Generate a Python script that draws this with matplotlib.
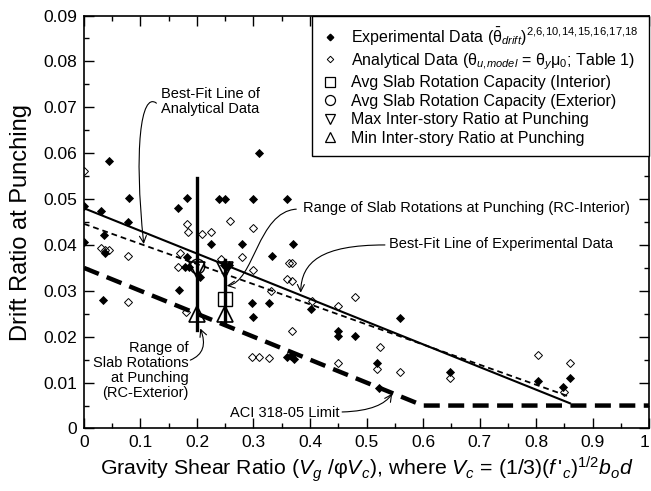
import matplotlib
matplotlib.use('Agg')
import matplotlib.pyplot as plt
from matplotlib.lines import Line2D
from matplotlib.patches import FancyArrowPatch
from matplotlib.path import Path
from matplotlib.ticker import MultipleLocator, FuncFormatter

plt.rcParams['font.family'] = ['Liberation Sans', 'DejaVu Sans']
plt.rcParams['mathtext.fontset'] = 'custom'
plt.rcParams['mathtext.rm'] = 'Liberation Sans'
plt.rcParams['mathtext.it'] = 'Liberation Sans:italic'
plt.rcParams['mathtext.bf'] = 'Liberation Sans:bold'
plt.rcParams['mathtext.sf'] = 'Liberation Sans'

# ---------------- data ----------------
exp_x = [0.000, 0.000, 0.031, 0.035, 0.038, 0.034, 0.045, 0.078, 0.080, 0.166,
         0.169, 0.182, 0.183, 0.178, 0.186, 0.206, 0.225, 0.239, 0.250, 0.248,
         0.256, 0.252, 0.280, 0.297, 0.300, 0.300, 0.310, 0.327, 0.332, 0.360,
         0.370, 0.360, 0.366, 0.372, 0.402, 0.449, 0.449, 0.480, 0.519, 0.522,
         0.559, 0.648, 0.804, 0.848, 0.860]
exp_y = [0.0484, 0.0407, 0.0473, 0.0422, 0.0382, 0.0281, 0.0582, 0.0451, 0.0502, 0.0481,
         0.0302, 0.0502, 0.0373, 0.0353, 0.0351, 0.0331, 0.0402, 0.0500, 0.0500, 0.0357,
         0.0357, 0.0352, 0.0402, 0.0273, 0.0244, 0.0500, 0.0601, 0.0273, 0.0377, 0.0500,
         0.0402, 0.0155, 0.0158, 0.0152, 0.0261, 0.0212, 0.0201, 0.0201, 0.0143, 0.0088,
         0.0241, 0.0123, 0.0103, 0.0091, 0.0111]

ana_x = [0.000, 0.031, 0.037, 0.045, 0.078, 0.078, 0.166, 0.170, 0.180, 0.182,
         0.184, 0.208, 0.225, 0.242, 0.259, 0.280, 0.300, 0.300, 0.297, 0.310,
         0.327, 0.331, 0.362, 0.369, 0.359, 0.369, 0.369, 0.403, 0.449, 0.480,
         0.449, 0.519, 0.524, 0.559, 0.648, 0.804, 0.850, 0.860]
ana_y = [0.0562, 0.0393, 0.0390, 0.0388, 0.0377, 0.0276, 0.0351, 0.0383, 0.0254, 0.0446,
         0.0429, 0.0424, 0.0429, 0.0370, 0.0452, 0.0373, 0.0436, 0.0345, 0.0156, 0.0155,
         0.0153, 0.0300, 0.0361, 0.0360, 0.0325, 0.0322, 0.0212, 0.0278, 0.0267, 0.0286,
         0.0142, 0.0129, 0.0178, 0.0124, 0.0110, 0.0160, 0.0080, 0.0142]

fit_exp_x = [0.0, 0.86]
fit_exp_y = [0.048, 0.0055]
fit_ana_x = [0.0, 0.86]
fit_ana_y = [0.0446, 0.0069]
aci_x = [0.0, 0.6, 1.0]
aci_y = [0.035, 0.005, 0.005]

ext_x = 0.20
ext_range = [0.0215, 0.0545]
ext_avg = 0.0355
ext_max = 0.0345
ext_min = 0.0249

int_x = 0.25
int_range = [0.0233, 0.0368]
int_avg = 0.0283
int_max = 0.0345
int_min = 0.0249

x_ticks = [0, 0.1, 0.2, 0.3, 0.4, 0.5, 0.6, 0.7, 0.8, 0.9, 1.0]
y_ticks = [0, 0.01, 0.02, 0.03, 0.04, 0.05, 0.06, 0.07, 0.08, 0.09]

legend_labels = [
    r"Experimental Data ($\bar{\mathrm{\theta}}_{drift})^{2,\!6,\!10,\!14,\!15,\!16,\!17,\!18}$",
    r"Analytical Data ($\mathrm{\theta}_{u,\!model}$ = $\mathrm{\theta}_y\mathrm{\mu}_0$; Table 1)",
    "Avg Slab Rotation Capacity (Interior)",
    "Avg Slab Rotation Capacity (Exterior)",
    "Max Inter-story Ratio at Punching",
    "Min Inter-story Ratio at Punching",
]

# ---------------- figure ----------------
fig = plt.figure(figsize=(6.51, 4.91), dpi=100)
ax = fig.add_axes([0.129, 0.1273, 0.8680, 0.8411])

ax.plot(fit_exp_x, fit_exp_y, color='k', lw=1.5, zorder=2)
ax.plot(fit_ana_x, fit_ana_y, color='k', lw=1.3, dashes=(3.2, 2.2), zorder=2)
ax.plot(aci_x, aci_y, color='k', lw=3.2, dashes=(3.6, 1.9), zorder=2)

ax.plot(exp_x, exp_y, linestyle='none', marker='D', ms=3.8, mfc='k', mec='k',
        mew=0.6, zorder=3)
ax.plot(ana_x, ana_y, linestyle='none', marker='D', ms=3.8, mfc='none', mec='k',
        mew=0.7, zorder=3)

# range bars
ax.plot([ext_x, ext_x], ext_range, color='k', lw=2.4, zorder=4)
ax.plot([int_x, int_x], int_range, color='k', lw=2.4, zorder=4)
ax.plot([ext_x], [ext_avg], marker='o', ms=10.5, mfc='none', mec='k', mew=1.0, zorder=5)
ax.plot([int_x], [int_avg], marker='s', ms=10.5, mfc='none', mec='k', mew=1.0, zorder=5)
ax.plot([ext_x, int_x], [ext_max, int_max], linestyle='none', marker='v', ms=12,
        mfc='none', mec='k', mew=1.2, zorder=5)
ax.plot([ext_x, int_x], [ext_min, int_min], linestyle='none', marker='^', ms=12,
        mfc='none', mec='k', mew=1.2, zorder=5)

ax.set_xlim(0, 1)
ax.set_ylim(0, 0.09)
ax.set_xticks(x_ticks)
ax.set_yticks(y_ticks)
ax.xaxis.set_minor_locator(MultipleLocator(0.05))
ax.yaxis.set_minor_locator(MultipleLocator(0.005))
fmt = FuncFormatter(lambda v, p: '0' if abs(v) < 1e-12 else ('%g' % round(v, 3)))
ax.xaxis.set_major_formatter(fmt)
ax.yaxis.set_major_formatter(fmt)
ax.tick_params(which='both', direction='in', top=True, right=True, width=1.0)
ax.tick_params(which='major', length=7, labelsize=12.5, pad=5)
ax.tick_params(which='minor', length=3.5)
for s in ax.spines.values():
    s.set_linewidth(1.2)
xlabels = ax.get_xticklabels()
xlabels[-1].set_horizontalalignment('right')

ax.set_xlabel(r"Gravity Shear Ratio ($V_g$ /φ$V_c$), where $V_c$ = (1/3)($f\,'_c)^{1/2}$$b_o d$",
              fontsize=15.3, labelpad=3)
ax.set_ylabel("Drift Ratio at Punching", fontsize=17, labelpad=8)

# legend
handles = [
    Line2D([], [], linestyle='none', marker='D', ms=3.3, mfc='k', mec='k'),
    Line2D([], [], linestyle='none', marker='D', ms=3.3, mfc='none', mec='k', mew=0.7),
    Line2D([], [], linestyle='none', marker='s', ms=7.5, mfc='none', mec='k', mew=0.9),
    Line2D([], [], linestyle='none', marker='o', ms=7.2, mfc='none', mec='k', mew=0.9),
    Line2D([], [], linestyle='none', marker='v', ms=7.0, mfc='none', mec='k', mew=0.9),
    Line2D([], [], linestyle='none', marker='^', ms=7.0, mfc='none', mec='k', mew=0.9),
]
leg = ax.legend(handles, legend_labels, loc='upper right', bbox_to_anchor=(1, 1),
                borderaxespad=0, fontsize=11.5, frameon=True, fancybox=False,
                edgecolor='k', framealpha=1, handlelength=1.0, handletextpad=0.85,
                labelspacing=0.22, borderpad=0.62)
leg.get_frame().set_linewidth(1.0)

# annotations
def curve(pts, codes):
    p = FancyArrowPatch(path=Path(pts, codes), arrowstyle='->,head_length=0.5,head_width=0.25',
                        mutation_scale=10, lw=0.8, color='k', transform=ax.transData,
                        zorder=6)
    ax.add_patch(p)

C4 = [Path.MOVETO, Path.CURVE4, Path.CURVE4, Path.CURVE4]
C3 = [Path.MOVETO, Path.CURVE3, Path.CURVE3]

afs = 10.5
ax.text(0.137, 0.0713, "Best-Fit Line of\nAnalytical Data", fontsize=afs,
        ha='left', va='center', linespacing=1.1)
curve([(0.1282, 0.0709), (0.1005, 0.0735), (0.0882, 0.0607), (0.1058, 0.0402)], C4)

ax.text(0.387, 0.0480, "Range of Slab Rotations at Punching (RC-Interior)", fontsize=afs,
        ha='left', va='center')
curve([(0.3757, 0.0478), (0.3069, 0.0472), (0.3016, 0.0319), (0.2527, 0.0311)], C4)

ax.text(0.5397, 0.0401, "Best-Fit Line of Experimental Data", fontsize=afs,
        ha='left', va='center')
curve([(0.5326, 0.0400), (0.4198, 0.0400), (0.3845, 0.0363), (0.3835, 0.0296)], C4)

ax.text(0.185, 0.0127, "Range of\nSlab Rotations\nat Punching\n(RC-Exterior)", fontsize=afs,
        ha='right', va='center', linespacing=1.1)
curve([(0.1882, 0.0149), (0.2222, 0.01665), (0.2058, 0.0218)], C3)

ax.text(0.4515, 0.0034, "ACI 318-05 Limit", fontsize=afs, ha='right', va='center')
curve([(0.4568, 0.0036), (0.5079, 0.0038), (0.5326, 0.0053), (0.5455, 0.0076)], C4)

fig.savefig('out.png', dpi=100)
